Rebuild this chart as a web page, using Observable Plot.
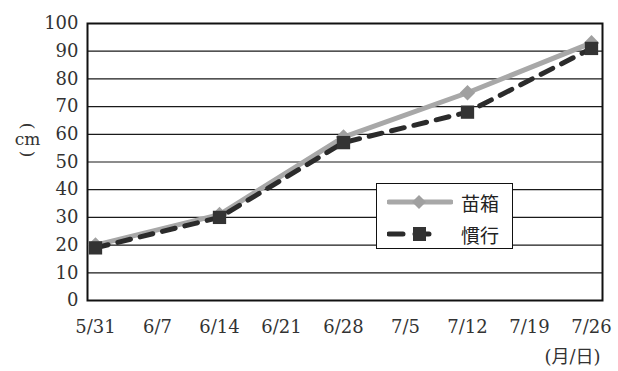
<!DOCTYPE html>
<html>
<head>
<meta charset="utf-8">
<script src="https://cdn.jsdelivr.net/npm/d3@7"></script>
<script src="https://cdn.jsdelivr.net/npm/@observablehq/plot@0.6"></script>
<style>
  html, body { margin: 0; padding: 0; background: #fff; }
  #wrap { position: relative; width: 618px; height: 371px; }
  #wrap svg text, #wrap svg tspan { font-family: 'DejaVu Serif', 'Noto Sans CJK JP', serif !important; }
  #legend {
    position: absolute; left: 376px; top: 183px; width: 137px; height: 66px;
    border: 1.5px solid #111; background: #fff; box-sizing: border-box;
    font-family: "Noto Sans CJK JP", sans-serif; font-size: 19px; color: #222;
  }
  .row { position: absolute; left: 10px; height: 24px; display: flex; align-items: center; }
  .row span { margin-left: 8px; }
</style>
</head>
<body>
<div id="wrap"></div>
<script>
const dates = ["5/31", "6/7", "6/14", "6/21", "6/28", "7/5", "7/12", "7/19", "7/26"];
const measuredDates = ["5/31", "6/14", "6/28", "7/12", "7/26"];
const naebako = [20, 31, 59, 75, 93];   // 苗箱
const kanko = [19, 30, 57, 68, 91];     // 慣行
const yTicks = [0, 10, 20, 30, 40, 50, 60, 70, 80, 90, 100];
const seriesNames = ["苗箱", "慣行"];

const rowsA = measuredDates.map((d, i) => ({date: d, value: naebako[i]}));
const rowsB = measuredDates.map((d, i) => ({date: d, value: kanko[i]}));

const chart = Plot.plot({
  width: 618,
  height: 371,
  marginLeft: 87,
  marginRight: 16,
  marginTop: 23,
  marginBottom: 71,
  style: {background: "#fff"},
  x: {type: "point", domain: dates, padding: 0, insetLeft: 5, insetRight: 9},
  y: {domain: [0, 100]},
  marks: [
    Plot.gridY(yTicks, {stroke: "#1a1a1a", strokeOpacity: 1, strokeWidth: 1.2}),
    Plot.frame({stroke: "#111", strokeWidth: 2}),
    Plot.axisY({ticks: yTicks, tickSize: 0, tickPadding: 9, label: null, fontSize: 18, fill: "#333"}),
    Plot.axisX({tickSize: 0, tickPadding: 20, label: null, fontSize: 18, fill: "#333"}),
    Plot.text(["("], {frameAnchor: "left", textAnchor: "middle", dx: -60, dy: -36, rotate: 90, fontSize: 17, fill: "#333"}),
    Plot.text(["cm"], {frameAnchor: "left", textAnchor: "middle", dx: -60, dy: -22, fontSize: 17, fill: "#333"}),
    Plot.text([")"], {frameAnchor: "left", textAnchor: "middle", dx: -60, dy: -8, rotate: 90, fontSize: 17, fill: "#333"}),
    Plot.text(["(月/日)"], {frameAnchor: "bottom-right", dx: -2, dy: 62, textAnchor: "end", fontSize: 18, fill: "#333"}),
    Plot.line(rowsA, {x: "date", y: "value", stroke: "#a8a8a8", strokeWidth: 5}),
    Plot.dot(rowsA, {x: "date", y: "value", symbol: "diamond2", r: 7, fill: "#a0a0a0", stroke: "none"}),
    Plot.line(rowsB, {x: "date", y: "value", stroke: "#2b2b2b", strokeWidth: 5, strokeDasharray: "13,10", strokeLinecap: "round"}),
    Plot.dot(rowsB, {x: "date", y: "value", symbol: "square", r: 7.5, fill: "#333", stroke: "none"})
  ]
});

const wrap = document.getElementById("wrap");
wrap.appendChild(chart);

const legend = document.createElement("div");
legend.id = "legend";
legend.innerHTML = `
  <div class="row" style="top:6px">
    <svg width="66" height="16"><line x1="2" y1="8" x2="64" y2="8" stroke="#a8a8a8" stroke-width="5" stroke-linecap="round"/><path d="M32,1L39,8L32,15L25,8Z" fill="#a0a0a0"/></svg>
    <span>${seriesNames[0]}</span>
  </div>
  <div class="row" style="top:38px">
    <svg width="66" height="16"><line x1="2" y1="8" x2="52" y2="8" stroke="#2b2b2b" stroke-width="5" stroke-dasharray="14,12" stroke-linecap="round"/><rect x="26" y="1" width="13" height="14" fill="#333"/></svg>
    <span>${seriesNames[1]}</span>
  </div>`;
wrap.appendChild(legend);
</script>
</body>
</html>
